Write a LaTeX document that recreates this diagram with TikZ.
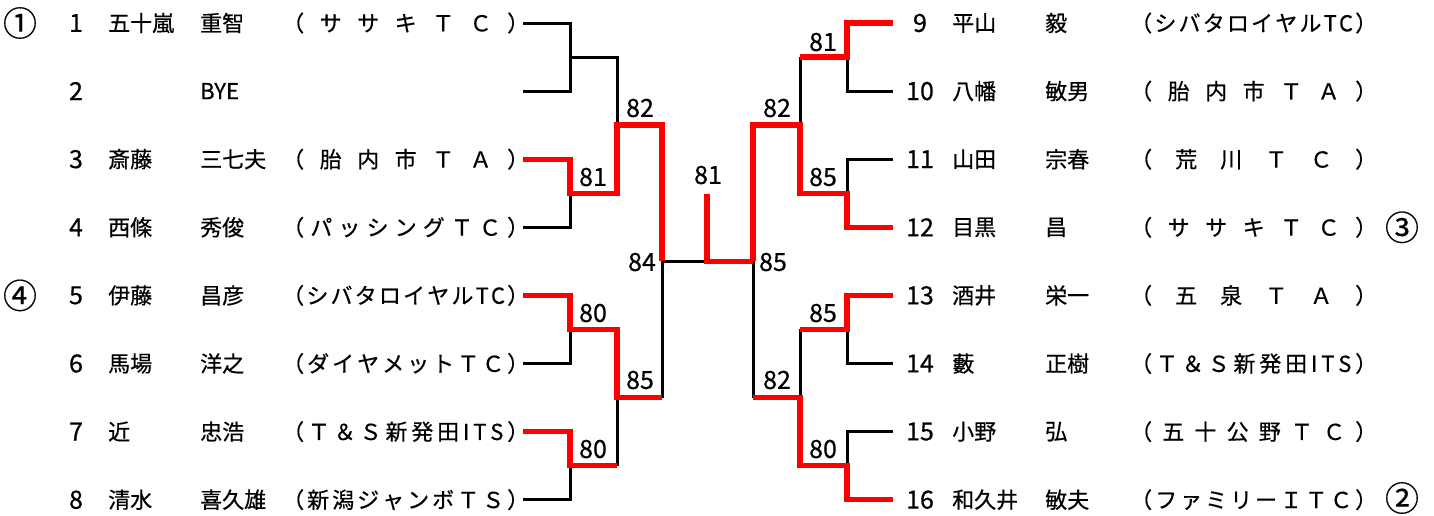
\documentclass[tikz,border=0pt]{standalone}
\usepackage{fontspec}
\setmainfont{Noto Sans CJK JP}[FakeBold=0.5]
\newlength\clubw
\setlength\clubw{247pt}
\makeatletter
\def\club@next#1{\ifx#1\relax\else\hfill#1\expandafter\club@next\fi}
\newcommand\club[1]{\edef\club@arg{#1}%
  \makebox[\clubw][s]{（\expandafter\club@next\club@arg\relax\hfill）}}
\makeatother

\begin{document}
\begin{tikzpicture}[x=1pt, y=-1pt,
    every node/.style={font=\fontsize{22}{26}\selectfont},
    num/.style={font=\fontsize{25}{28}\selectfont},
    seed/.style={font=\fontsize{34}{36}\selectfont, inner sep=0pt},
    pname/.style={anchor=west, inner sep=0pt},
    lose/.style={line width=3pt},
    win/.style={line width=5.4pt, red}]
  \useasboundingbox (0,0) rectangle (1434,515);

  % left half
  \foreach \i/\fam/\giv/\cl [evaluate=\i as \y using 23+68.1*(\i-1)] in
    {1/五十嵐/重智/ササキＴＣ, 3/斎藤/三七夫/胎内市ＴＡ, 4/西條/秀俊/パッシングＴＣ,
     5/伊藤/昌彦/シバタロイヤルTC, 6/馬場/洋之/ダイヤメットＴＣ,
     7/近/忠浩/Ｔ＆Ｓ新発田ITS, 8/清水/喜久雄/新潟ジャンボＴＳ}
  {
    \node[num] (n\i) at (76,\y) {\i};
    \node[pname] (f\i) at (108,\y) {\fam};
    \node[pname] (g\i) at (200,\y) {\giv};
    \node[pname] (c\i) at (282,\y) {\club{\cl}};
    \coordinate (L\i) at (523,\y);
  }
  \node[num] (n2) at (76,91.1) {2};
  \node[pname] (g2) at (200,91.1) {BYE};
  \coordinate (L2) at (523,91.1);

  % right half
  \foreach \i/\fam/\giv/\cl [evaluate=\i as \y using 23+68.1*(\i-9)] in
    {9/平山/毅/シバタロイヤルTC, 10/八幡/敏男/胎内市ＴＡ, 11/山田/宗春/荒川ＴＣ,
     12/目黒/昌/ササキＴＣ, 13/酒井/栄一/五泉ＴＡ, 14/藪/正樹/Ｔ＆Ｓ新発田ITS,
     15/小野/弘/五十公野ＴＣ, 16/和久井/敏夫/ファミリーＩＴＣ}
  {
    \node[num] (n\i) at (920,\y) {\i};
    \node[pname] (f\i) at (952,\y) {\fam};
    \node[pname] (g\i) at (1045,\y) {\giv};
    \node[pname] (c\i) at (1130,\y) {\club{\cl}};
    \coordinate (R\i) at (893,\y);
  }

  % seeds
  \node[seed] (k1) at (20,23) {①};
  \node[seed] (k4) at (20,295.4) {④};
  \node[seed] (k3) at (1402,227.3) {③};
  \node[seed] (k2) at (1402,498) {②};

  % bracket joints
  \coordinate (q1) at (570,57.05);
  \coordinate (q2) at (570,193.25);
  \coordinate (q3) at (570,329.45);
  \coordinate (q4) at (570,465.65);
  \coordinate (s1) at (617,125.15);
  \coordinate (s2) at (617,397.55);
  \coordinate (tL) at (662,261.35);
  \coordinate (fin) at (707,261.35);
  \coordinate (top) at (707,194);
  \coordinate (tR) at (753,261.35);
  \coordinate (s3) at (800,125.15);
  \coordinate (s4) at (800,397.55);
  \coordinate (q5) at (847,57.05);
  \coordinate (q6) at (847,193.25);
  \coordinate (q7) at (847,329.45);
  \coordinate (q8) at (847,465.65);

  % lost lines
  \draw[lose] (L1) -| (q1) |- (L2);
  \draw[lose] (q1) -| (s1);
  \draw[lose] (L4) -| (q2);
  \draw[lose] (L6) -| (q3);
  \draw[lose] (L8) -| (q4);
  \draw[lose] (q4 -| s2) -- (s2);
  \draw[lose] (s2 -| tL) -- (tL) -- (fin);
  \draw[lose] (R10) -| (q5);
  \draw[lose] (q5 -| s3) -- (s3);
  \draw[lose] (R11) -| (q6);
  \draw[lose] (tR) -- (tR |- s4);
  \draw[lose] (R14) -| (q7);
  \draw[lose] (q7 -| s4) -- (s4);
  \draw[lose] (R15) -| (q8);

  % winners
  \draw[win] (L3) -| (q2) -| (s1) -| (tL);
  \draw[win] (L5) -| (q3) -| (s2) -- (s2 -| tL);
  \draw[win] (L7) -| (q4) -- (q4 -| s2);
  \draw[win] (top) -- (fin) -- (tR);
  \draw[win] (R9) -| (q5) -- (q5 -| s3);
  \draw[win] (tR) |- (s3) |- (q6) |- (R12);
  \draw[win] (R13) -| (q7) -- (q7 -| s4);
  \draw[win] (tR |- s4) -- (s4) |- (q8) |- (R16);

  % scores
  \foreach \x/\y/\s [count=\k] in {593/177/81, 640/108/82, 642/262/84, 593/313/80,
      640/380/85, 593/449/80, 708/175/81, 823/42/81, 777/108/82, 823/177/85,
      773/262/85, 823/313/85, 777/380/82, 823/449/80}
    \node[num] (sc\k) at (\x,\y) {\s};
\end{tikzpicture}
\end{document}
